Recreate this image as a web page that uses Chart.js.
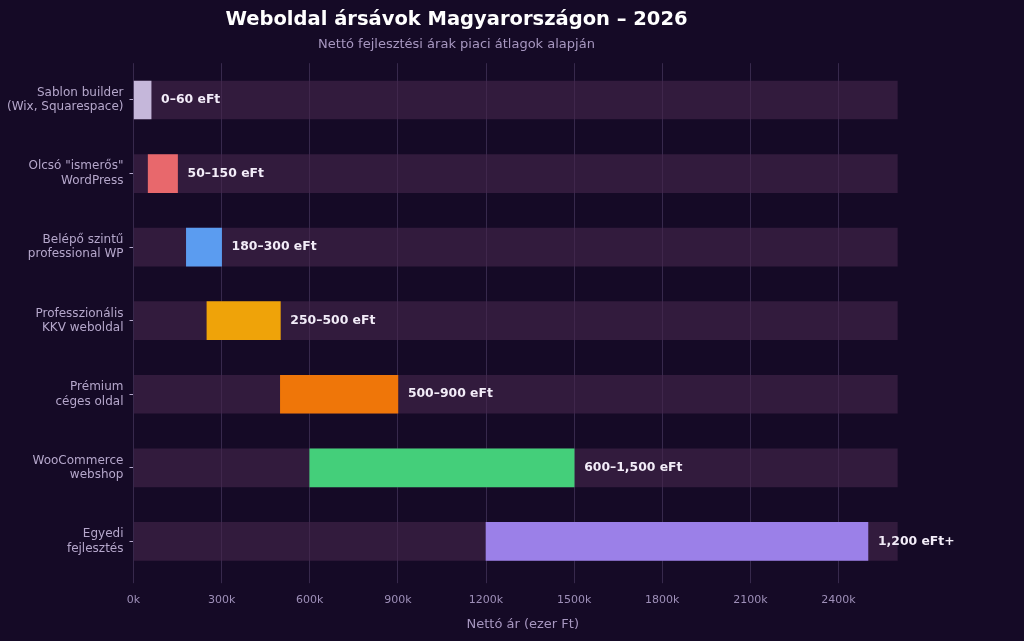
<!DOCTYPE html>
<html>
<head>
<meta charset="utf-8">
<script src="https://cdn.jsdelivr.net/npm/chart.js@4.4.1/dist/chart.umd.min.js"></script>
<style>
  html, body { margin: 0; padding: 0; background: #150a26; }
  #wrap { position: relative; width: 1024px; height: 641px; }
</style>
</head>
<body>
<div id="wrap"><canvas id="c" width="1024" height="641"></canvas></div>
<script>
const categories = [
  ["Sablon builder", "(Wix, Squarespace)"],
  ["Olcsó \"ismerős\"", "WordPress"],
  ["Belépő szintű", "professional WP"],
  ["Professzionális", "KKV weboldal"],
  ["Prémium", "céges oldal"],
  ["WooCommerce", "webshop"],
  ["Egyedi", "fejlesztés"]
];
const lowValues  = [0, 50, 180, 250, 500, 600, 1200];
const highValues = [60, 150, 300, 500, 900, 1500, 2500];
const backgroundMax = [2600, 2600, 2600, 2600, 2600, 2600, 2600];
const valueLabels = ["0–60 eFt", "50–150 eFt", "180–300 eFt", "250–500 eFt", "500–900 eFt", "600–1,500 eFt", "1,200 eFt+"];
const barColors = ["#c5b7da", "#e8686c", "#5b9cf0", "#efa309", "#ef7609", "#44cf7a", "#9b80e8"];
const xTicks = [0, 300, 600, 900, 1200, 1500, 1800, 2100, 2400];

const FONT = "'DejaVu Sans', sans-serif";

const labelPlugin = {
  id: 'valueLabels',
  afterDatasetsDraw(chart) {
    const ctx = chart.ctx;
    const meta = chart.getDatasetMeta(0);
    ctx.save();
    ctx.font = "bold 12.4px " + FONT;
    ctx.fillStyle = "#f2ecf8";
    ctx.textAlign = "left";
    ctx.textBaseline = "middle";
    meta.data.forEach((bar, i) => {
      const xEnd = chart.scales.x.getPixelForValue(highValues[i]);
      ctx.fillText(valueLabels[i], xEnd + 10, bar.y);
    });
    ctx.restore();
  }
};

new Chart(document.getElementById('c'), {
  type: 'bar',
  data: {
    labels: categories,
    datasets: [
      {
        label: 'Ársáv',
        data: lowValues.map((lo, i) => [lo, highValues[i]]),
        backgroundColor: barColors,
        borderWidth: 0,
        barThickness: 38,
        grouped: false,
        order: 0
      },
      {
        label: 'Háttér',
        data: backgroundMax.map(v => [0, v]),
        backgroundColor: 'rgba(72, 40, 78, 0.58)',
        borderWidth: 0,
        barThickness: 38,
        grouped: false,
        order: 1
      }
    ]
  },
  options: {
    indexAxis: 'y',
    responsive: false,
    animation: false,
    devicePixelRatio: 1,
    layout: { padding: { left: 1, right: 112, top: 0, bottom: 9 } },
    plugins: {
      legend: { display: false },
      tooltip: { enabled: false },
      title: {
        display: true,
        text: 'Weboldal ársávok Magyarországon – 2026',
        color: '#ffffff',
        font: { family: FONT, size: 19.5, weight: 'bold' },
        padding: { top: 8, bottom: 5.8 }
      },
      subtitle: {
        display: true,
        text: 'Nettó fejlesztési árak piaci átlagok alapján',
        color: '#a797c0',
        font: { family: FONT, size: 13 },
        padding: { top: 0, bottom: 10.4 }
      }
    },
    scales: {
      x: {
        type: 'linear',
        min: 0,
        max: 2650,
        afterBuildTicks(scale) {
          scale.ticks = xTicks.map(v => ({ value: v }));
        },
        ticks: {
          autoSkip: false,
          maxRotation: 0,
          color: '#9e8fb8',
          font: { family: FONT, size: 11 },
          padding: 10,
          callback: v => v + 'k'
        },
        grid: {
          color: 'rgba(120, 100, 150, 0.35)',
          lineWidth: 1,
          drawTicks: true,
          tickLength: 5,
          tickColor: 'rgba(120, 100, 150, 0.35)'
        },
        border: { display: false },
        title: {
          display: true,
          text: 'Nettó ár (ezer Ft)',
          color: '#a797c0',
          font: { family: FONT, size: 13 },
          padding: { top: 0, bottom: 0 }
        }
      },
      y: {
        type: 'category',
        offset: true,
        ticks: {
          color: '#b5a7cb',
          font: { family: FONT, size: 12, lineHeight: 1.2 },
          padding: 6
        },
        grid: {
          display: true,
          drawOnChartArea: false,
          drawTicks: true,
          tickLength: 4,
          tickColor: '#b5a7cb',
          offset: false
        },
        border: { display: false }
      }
    }
  },
  plugins: [labelPlugin]
});
</script>
</body>
</html>
